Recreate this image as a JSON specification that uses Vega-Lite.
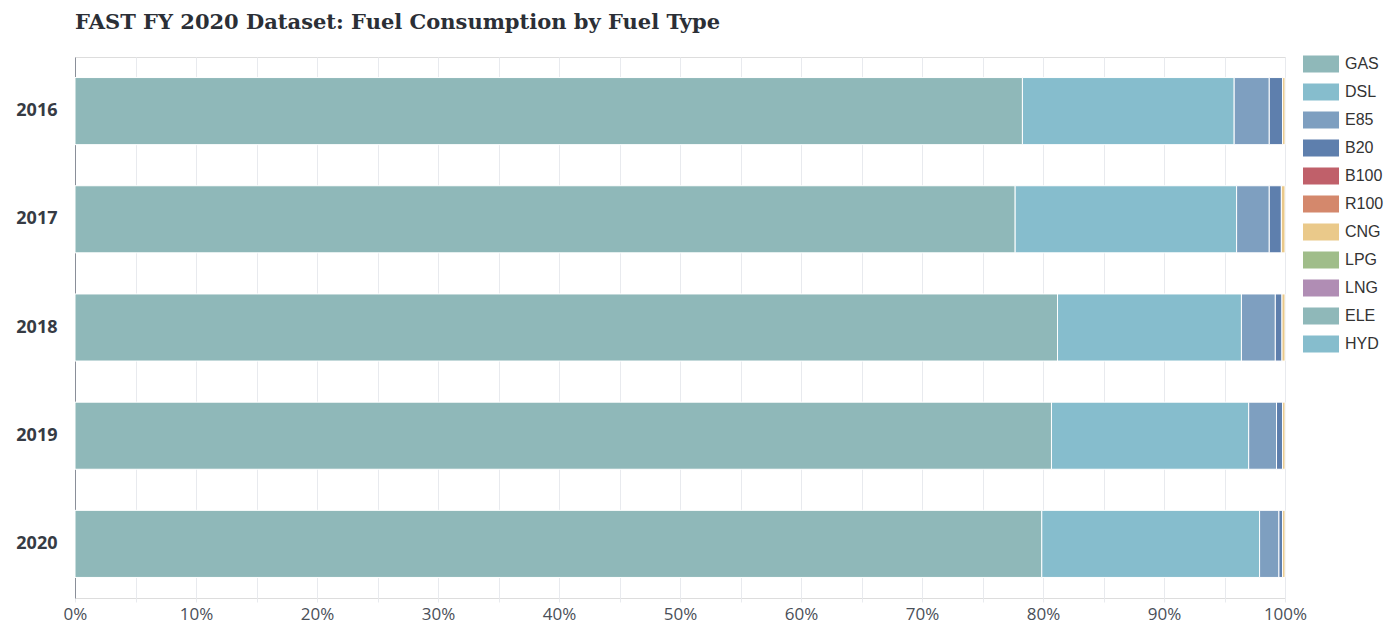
{
  "$schema": "https://vega.github.io/schema/vega-lite/v6.json",
  "autosize": {"type": "none"},
  "padding": {"left": 75, "top": 57, "right": 101, "bottom": 31},
  "width": 1210,
  "height": 541,
  "background": "white",
  "title": {
    "text": "FAST FY 2020 Dataset: Fuel Consumption by Fuel Type",
    "anchor": "start",
    "frame": "group",
    "font": "DejaVu Serif",
    "fontSize": 21,
    "fontWeight": "bold",
    "color": "#2b2f36",
    "offset": 13
  },
  "data": {
    "values": [
      {"year": "2016", "fuel": "GAS", "k": 0, "value": 0.783},
      {"year": "2016", "fuel": "DSL", "k": 1, "value": 0.175},
      {"year": "2016", "fuel": "E85", "k": 2, "value": 0.029},
      {"year": "2016", "fuel": "B20", "k": 3, "value": 0.011},
      {"year": "2016", "fuel": "CNG", "k": 6, "value": 0.002},
      {"year": "2017", "fuel": "GAS", "k": 0, "value": 0.777},
      {"year": "2017", "fuel": "DSL", "k": 1, "value": 0.183},
      {"year": "2017", "fuel": "E85", "k": 2, "value": 0.027},
      {"year": "2017", "fuel": "B20", "k": 3, "value": 0.010},
      {"year": "2017", "fuel": "CNG", "k": 6, "value": 0.003},
      {"year": "2018", "fuel": "GAS", "k": 0, "value": 0.812},
      {"year": "2018", "fuel": "DSL", "k": 1, "value": 0.152},
      {"year": "2018", "fuel": "E85", "k": 2, "value": 0.028},
      {"year": "2018", "fuel": "B20", "k": 3, "value": 0.0055},
      {"year": "2018", "fuel": "CNG", "k": 6, "value": 0.0025},
      {"year": "2019", "fuel": "GAS", "k": 0, "value": 0.807},
      {"year": "2019", "fuel": "DSL", "k": 1, "value": 0.163},
      {"year": "2019", "fuel": "E85", "k": 2, "value": 0.023},
      {"year": "2019", "fuel": "B20", "k": 3, "value": 0.005},
      {"year": "2019", "fuel": "CNG", "k": 6, "value": 0.002},
      {"year": "2020", "fuel": "GAS", "k": 0, "value": 0.799},
      {"year": "2020", "fuel": "DSL", "k": 1, "value": 0.180},
      {"year": "2020", "fuel": "E85", "k": 2, "value": 0.016},
      {"year": "2020", "fuel": "B20", "k": 3, "value": 0.003},
      {"year": "2020", "fuel": "CNG", "k": 6, "value": 0.002}
    ]
  },
  "mark": {"type": "bar", "stroke": "white", "strokeWidth": 1},
  "encoding": {
    "y": {
      "field": "year",
      "type": "nominal",
      "title": null,
      "scale": {"paddingInner": 0.38, "paddingOuter": 0.19},
      "axis": {
        "domain": true,
        "domainColor": "#8a8f99",
        "domainWidth": 1,
        "ticks": false,
        "labelFont": "Noto Sans",
        "labelFontWeight": "bold",
        "labelFontSize": 18,
        "labelColor": "#363b44",
        "labelPadding": 18
      }
    },
    "x": {
      "field": "value",
      "type": "quantitative",
      "stack": "zero",
      "title": null,
      "scale": {"domain": [0, 1], "nice": false},
      "axis": {
        "values": [0, 0.05, 0.1, 0.15, 0.2, 0.25, 0.3, 0.35, 0.4, 0.45, 0.5, 0.55, 0.6, 0.65, 0.7, 0.75, 0.8, 0.85, 0.9, 0.95, 1],
        "labelExpr": "round(datum.value*100) % 10 == 0 ? round(datum.value*100) + '%' : ''",
        "domain": false,
        "grid": true,
        "gridColor": "#e8eaee",
        "gridWidth": 1,
        "tickColor": "#e8eaee",
        "tickSize": 4,
        "labelFont": "Open Sans",
        "labelFontSize": 17,
        "labelColor": "#4a4f58",
        "labelPadding": 4,
        "labelFlush": false
      }
    },
    "color": {
      "field": "fuel",
      "type": "nominal",
      "scale": {
        "domain": ["GAS", "DSL", "E85", "B20", "B100", "R100", "CNG", "LPG", "LNG", "ELE", "HYD"],
        "range": ["#8fb8b9", "#86bdcd", "#7e9fc0", "#5e7fad", "#c0606a", "#d4886c", "#eac98a", "#a0bd8a", "#b08db4", "#8fb8b9", "#86bdcd"]
      },
      "legend": {
        "title": null,
        "orient": "none",
        "legendX": 1228,
        "legendY": -11,
        "symbolType": "M-1,-0.47H1V0.47H-1Z",
        "symbolSize": 1296,
        "symbolStrokeWidth": 0,
        "symbolOpacity": 1,
        "labelFont": "Liberation Sans",
        "labelFontSize": 16,
        "labelColor": "#333333",
        "labelOffset": 6,
        "rowPadding": 1
      }
    },
    "order": {"field": "k", "type": "quantitative"}
  }
}
